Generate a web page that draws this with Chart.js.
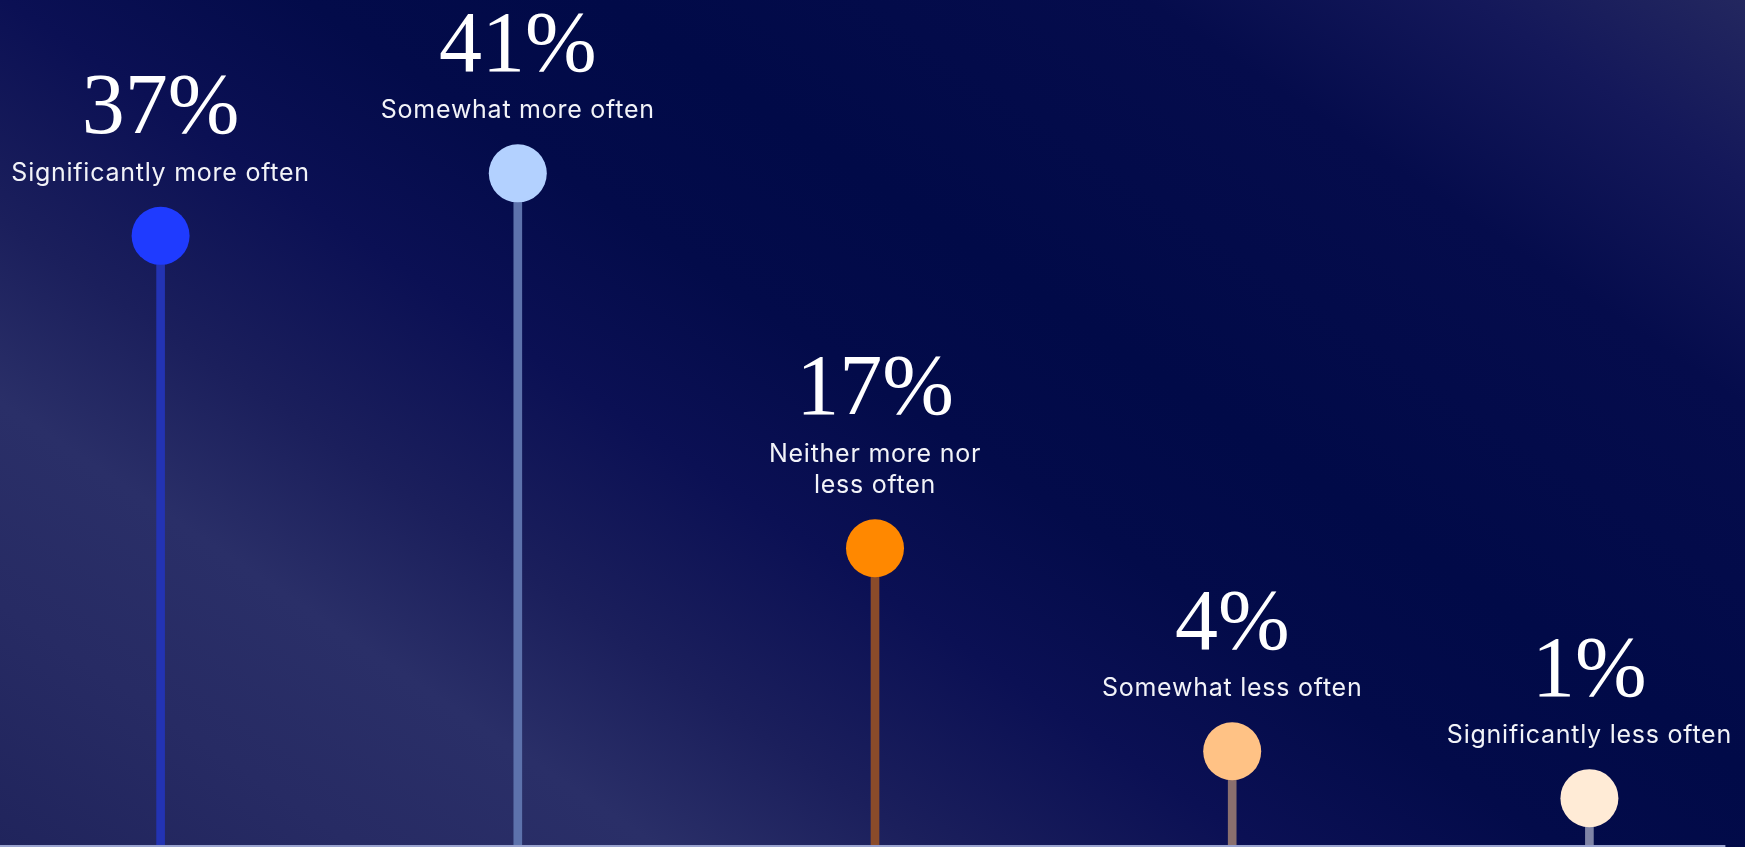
<!DOCTYPE html>
<html>
<head>
<meta charset="utf-8">
<script src="https://cdn.jsdelivr.net/npm/chart.js@4/dist/chart.umd.min.js"></script>
<style>
  html, body { margin: 0; padding: 0; width: 1745px; height: 847px; overflow: hidden; }
  body {
    background: linear-gradient(214deg,
      #23275f 0%, #14185a 9%, #050c4c 20%, #010a48 38%, #030b4a 48%,
      #0b1054 58%, #1b1f5c 69%, #2a2f68 78%, #272b64 88%, #20245c 100%);
    position: relative;
  }
  #wrap { position: absolute; left: -18px; top: 0; width: 1786px; height: 847px; }
  #c { display: block; }
</style>
</head>
<body>
<div id="wrap"><canvas id="c"></canvas></div>
<script>
// ---- data ----
const categories = ["Significantly more often", "Somewhat more often", "Neither more nor less often", "Somewhat less often", "Significantly less often"];
const values = [37, 41, 17, 4, 1];
const labelLines = [["Significantly more often"], ["Somewhat more often"], ["Neither more nor", "less often"], ["Somewhat less often"], ["Significantly less often"]];
const dotColors = ["#1f3bff", "#b3d1ff", "#ff8800", "#ffc285", "#ffebd6"];
const stemColors = ["#2333b3", "#5d72ac", "#8a4b2a", "#8a6f6e", "#7f84a6"];
const yMin = -2;
const yMax = 52.1;

const labelPlugin = {
  id: 'lollipopLabels',
  beforeDatasetsDraw(chart) {
    const ctx = chart.ctx;
    const meta = chart.getDatasetMeta(1);
    const last = meta.data[meta.data.length - 1];
    ctx.save();
    ctx.strokeStyle = '#9aa3cf';
    ctx.lineWidth = 2;
    ctx.beginPath();
    ctx.moveTo(0, chart.chartArea.bottom + 1);
    ctx.lineTo(last.x + 136, chart.chartArea.bottom + 1);
    ctx.stroke();
    ctx.restore();
  },
  afterDatasetsDraw(chart) {
    const ctx = chart.ctx;
    const meta = chart.getDatasetMeta(1);
    ctx.save();
    ctx.textAlign = 'center';
    ctx.textBaseline = 'alphabetic';
    meta.data.forEach((pt, i) => {
      const lines = labelLines[i];
      const lastBase = pt.y - 55;
      const firstBase = lastBase - (lines.length - 1) * 31.7;
      ctx.fillStyle = '#f2f3f8';
      ctx.font = '400 25px Inter, "Noto Sans", sans-serif';
      ctx.letterSpacing = '0.75px';
      lines.forEach((ln, k) => ctx.fillText(ln, pt.x, firstBase + k * 31.7));
      ctx.letterSpacing = '0px';
      ctx.fillStyle = '#ffffff';
      ctx.font = '400 86px "Liberation Serif", "DejaVu Serif", serif';
      ctx.fillText(values[i] + '%', pt.x, firstBase - 47.5);
    });
    ctx.restore();
  }
};

new Chart(document.getElementById('c'), {
  type: 'bar',
  data: {
    labels: categories,
    datasets: [
      {
        type: 'bar',
        data: values.map(v => [yMin, v]),
        backgroundColor: stemColors,
        borderWidth: 0,
        barThickness: 8,
        order: 2
      },
      {
        type: 'line',
        data: values,
        showLine: false,
        pointRadius: 29,
        pointHoverRadius: 29,
        pointBorderWidth: 0,
        pointBackgroundColor: dotColors,
        pointBorderColor: dotColors,
        clip: false,
        order: 1
      }
    ]
  },
  options: {
    responsive: true,
    maintainAspectRatio: false,
    devicePixelRatio: 1,
    animation: false,
    events: [],
    layout: { autoPadding: false, padding: { left: 0, right: 0, top: 0, bottom: 2 } },
    plugins: { legend: { display: false }, tooltip: { enabled: false } },
    scales: {
      x: { display: false, offset: true, grid: { display: false } },
      y: { display: false, min: yMin, max: yMax, grid: { display: false } }
    }
  },
  plugins: [labelPlugin]
});
</script>
</body>
</html>
